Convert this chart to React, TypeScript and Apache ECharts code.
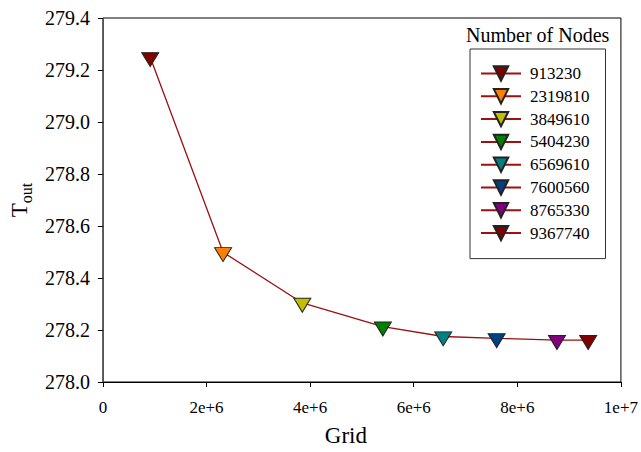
import React, { useEffect, useRef } from 'react';
import * as echarts from 'echarts';

const nodeLabels = ['913230', '2319810', '3849610', '5404230', '6569610', '7600560', '8765330', '9367740'];
const gridSizes = [913230, 2319810, 3849610, 5404230, 6569610, 7600560, 8765330, 9367740];
const toutValues = [279.249, 278.499, 278.304, 278.213, 278.175, 278.168, 278.161, 278.161];
const markerColors = ['#800000', '#ff8000', '#c0c000', '#008000', '#008080', '#004080', '#800080', '#800000'];
const xTickLabels = ['0', '2e+6', '4e+6', '6e+6', '8e+6', '1e+7'];
const yTickLabels = ['278.0', '278.2', '278.4', '278.6', '278.8', '279.0', '279.2', '279.4'];

const FONT = "'Liberation Serif', 'Times New Roman', serif";
const LINE_COLOR = '#9b1010';

export default function App() {
  const ref = useRef<HTMLDivElement>(null);

  useEffect(() => {
    if (!ref.current) return;
    const chart = echarts.init(ref.current, undefined, { renderer: 'svg' });

    const lineData = gridSizes.map((x, i) => [x, toutValues[i]]);

    const pointSeries = nodeLabels.map((name, i) => ({
      name,
      type: 'line',
      data: [[gridSizes[i], toutValues[i]]],
      symbol: 'triangle',
      symbolRotate: 180,
      symbolSize: [17, 14],
      symbolOffset: [0, 2.33],
      showSymbol: true,
      itemStyle: { color: markerColors[i], borderColor: '#222', borderWidth: 1 },
      lineStyle: { color: LINE_COLOR, width: 1.3 },
      z: 5,
      silent: true,
    }));

    chart.setOption({
      animation: false,
      textStyle: { fontFamily: FONT, color: '#000' },
      title: {
        text: 'Number of Nodes',
        left: 466,
        top: 25,
        padding: 0,
        textStyle: { fontFamily: FONT, fontSize: 20, fontWeight: 'normal', color: '#000' },
      },
      legend: {
        orient: 'vertical',
        left: 470,
        top: 49,
        padding: [16, 16, 17, 10],
        itemWidth: 40,
        itemHeight: 18,
        itemGap: 5.8,
        borderColor: '#333',
        borderWidth: 1,
        data: nodeLabels,
        selectedMode: false,
        textStyle: { fontFamily: FONT, fontSize: 17, color: '#000', padding: [0, 0, 0, 4] },
      },
      grid: {
        left: 101,
        right: 20,
        top: 18,
        bottom: 69,
        show: true,
        borderColor: '#000',
        borderWidth: 1,
      },
      xAxis: {
        type: 'value',
        min: 0,
        max: 10000000,
        interval: 2000000,
        name: 'Grid',
        nameLocation: 'middle',
        nameGap: 42,
        nameTextStyle: { fontFamily: FONT, fontSize: 23, color: '#000', padding: [0, 32, 0, 0] },
        axisLine: { show: true, lineStyle: { color: '#000', width: 1 } },
        axisTick: { show: true, length: 5, lineStyle: { color: '#000' } },
        splitLine: { show: false },
        axisLabel: {
          fontFamily: FONT,
          fontSize: 17,
          color: '#000',
          margin: 17,
          formatter: (v: number) => xTickLabels[Math.round(v / 2000000)] ?? '',
        },
      },
      yAxis: {
        type: 'value',
        min: 278,
        max: 279.4,
        interval: 0.2,
        name: '{t|T}{s|out}',
        nameLocation: 'middle',
        nameGap: 68,
        nameTextStyle: {
          fontFamily: FONT,
          color: '#000',
          rich: {
            t: { fontFamily: FONT, fontSize: 23, color: '#000', verticalAlign: 'bottom' },
            s: { fontFamily: FONT, fontSize: 16, color: '#000', verticalAlign: 'bottom', padding: [0, 0, -3, 0] },
          },
        },
        axisLine: { show: true, lineStyle: { color: '#555', width: 1 } },
        axisTick: { show: true, length: 5, lineStyle: { color: '#000' } },
        splitLine: { show: false },
        axisLabel: {
          fontFamily: FONT,
          fontSize: 20,
          color: '#000',
          margin: 13,
          formatter: (v: number) => yTickLabels[Math.round((v - 278) / 0.2)] ?? '',
        },
      },
      series: [
        {
          name: 'curve',
          type: 'line',
          data: lineData,
          symbol: 'none',
          lineStyle: { color: LINE_COLOR, width: 1.3 },
          z: 2,
          silent: true,
        },
        ...pointSeries,
      ],
    });

    return () => chart.dispose();
  }, []);

  return (
    <div
      ref={ref}
      style={{ position: 'fixed', left: 0, top: 0, width: 641, height: 452, background: '#fff' }}
    />
  );
}
